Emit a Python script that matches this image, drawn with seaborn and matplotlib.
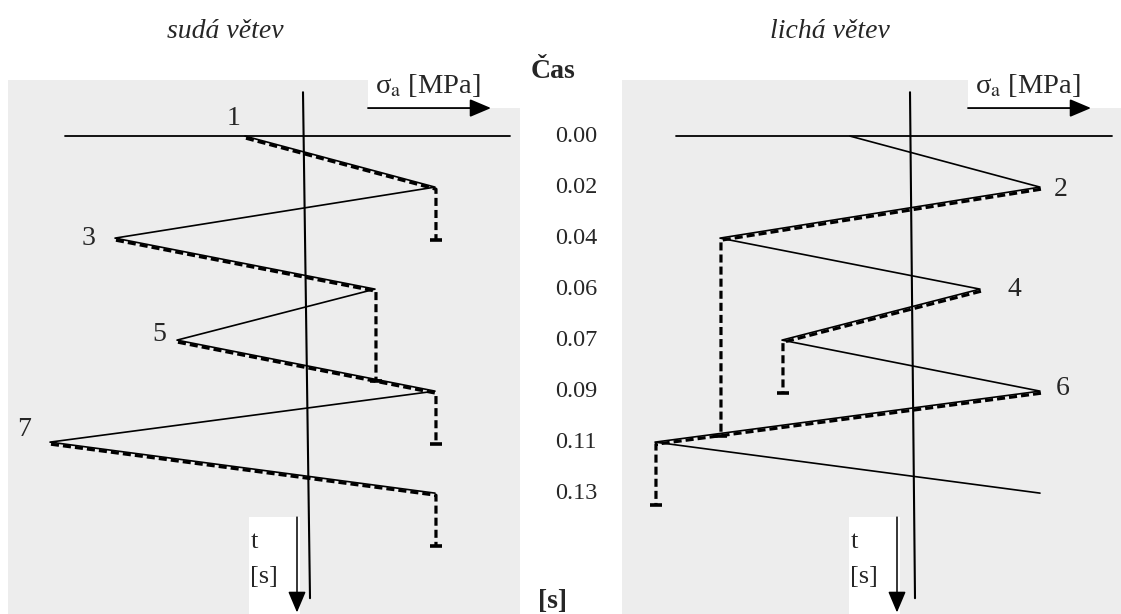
import numpy as np
import pandas as pd
import seaborn as sns
import matplotlib.pyplot as plt
from matplotlib import transforms
from matplotlib.patches import Rectangle

# Stress reversals of the loading history and their sample times
stress = [-60, 130, -190, 70, -128, 130, -255, 130]
times = ["0.00", "0.02", "0.04", "0.06", "0.07", "0.09", "0.11", "0.13"]
steps = list(range(len(stress)))

# Rainflow paths: (start reversal, peak reversal, level where the flow stops;
# None = the flow runs into a path coming from above)
flows_even = [(0, 1, 2.0), (2, 3, None), (4, 5, 6.0), (6, 7, 8.0)]
flows_odd = [(1, 2, None), (3, 4, 5.0), (5, 6, 7.2)]

# Numbered reversals shown on each branch
marks_even = ["1", "3", "5", "7"]
marks_odd = ["2", "4", "6"]

sns.set_style("white")
plt.rcParams["font.family"] = ["Liberation Serif", "DejaVu Serif"]
plt.rcParams["mathtext.fontset"] = "stix"
plt.rcParams["lines.scale_dashes"] = False

W, H = 1121, 614
fig = plt.figure(figsize=(W / 100, H / 100), dpi=100)
fig.patch.set_facecolor("white")

GRAY = "#ededed"
DASH = (0, (5.8, 2.9))


def stop_level(end):
    """Level where a flow dropping from reversal `end` meets a later path."""
    x = stress[end]
    for k in range(end + 1, len(stress) - 1):
        a, b = stress[k], stress[k + 1]
        if min(a, b) < x < max(a, b):
            return k + (x - a) / (b - a)
    return len(stress)


def panel(rect, xlim, axis_tilt, hline, sig_box, t_box, flows, marks, mark_side):
    ax = fig.add_axes(rect)
    ax.set_facecolor(GRAY)
    ax.set_xlim(*xlim)
    ax.set_ylim(9.37, -1.1)
    ax.set_xticks([])
    ax.set_yticks([])
    for s in ax.spines.values():
        s.set_visible(False)

    # time axis and the zero-time line
    ax.plot([axis_tilt[0], axis_tilt[1]], [-0.86, 9.06], color="black", lw=1.5)
    ax.plot(hline, [0, 0], color="black", lw=1.3)

    # loading history
    df = pd.DataFrame({"stress": stress, "step": steps})
    sns.lineplot(data=df, x="stress", y="step", sort=False, estimator=None,
                 color="black", lw=1.2, ax=ax)
    ax.set_xlabel("")
    ax.set_ylabel("")

    # rainflow paths, drawn just under the history line
    off = transforms.offset_copy(ax.transData, fig=fig, x=0.7, y=-1.5, units="points")
    for start, peak, stop in flows:
        if stop is None:
            stop = stop_level(peak)
        xs = [stress[start], stress[peak], stress[peak]]
        ys = [start, peak, stop]
        ax.plot(xs, ys, color="black", lw=2.3, ls=DASH, transform=off,
                solid_capstyle="butt", dash_capstyle="butt")
        ax.plot([stress[peak]], [stop], marker="_", ms=9, mew=2.6,
                color="black", transform=off)

    # reversal numbers
    for m in marks:
        i = int(m) - 1
        dx, dy = mark_side[m]
        ax.annotate(m, (stress[i], i), xytext=(dx, dy), textcoords="offset points",
                    ha="center", va="center", fontsize=20)

    # stress axis label with arrow
    x0, x1, y0 = sig_box
    ax.add_patch(Rectangle((x0, -1.1), xlim[1] - x0, y0 + 1.1, facecolor="white",
                           edgecolor="none", zorder=3))
    ax.annotate("", xy=(x1 + 3, y0), xytext=(x0, y0),
                arrowprops=dict(arrowstyle="-|>,head_length=1.3,head_width=0.55",
                                color="black", lw=1.3, shrinkA=0, shrinkB=0),
                zorder=4)
    ax.text((x0 + x1) / 2, y0 - 0.18, r"σ$_{\mathrm{a}}$ [MPa]", ha="center",
            va="bottom", fontsize=20.5, zorder=4, clip_on=False)

    # time label with arrow
    bx0, bx1 = t_box
    ax.add_patch(Rectangle((bx0, 7.47), bx1 - bx0, 1.95, facecolor="white",
                           edgecolor="none", zorder=3))
    ax.annotate("", xy=(bx1 - 3, 9.34), xytext=(bx1 - 3, 7.47),
                arrowprops=dict(arrowstyle="-|>,head_length=1.3,head_width=0.55",
                                color="black", lw=1.1, shrinkA=0, shrinkB=0),
                zorder=4)
    ax.text(bx0 + 2, 7.95, "t", ha="left", va="center", fontsize=19, zorder=4)
    ax.text(bx0 + 1, 8.65, "[s]", ha="left", va="center", fontsize=19, zorder=4)
    return ax


ax_l = panel([8 / W, 0, 512 / W, 534 / H], (-297, 215), (-2, 5), [-240, 205],
             (63, 183, -0.55), (-56, -5), flows_even, marks_even,
             {"1": (-8, 13), "3": (-19, 0), "5": (-13, 4), "7": (-19, 9)})
ax_r = panel([622 / W, 0, 499 / W, 534 / H], (-288, 211), (0, 5), [-234, 202],
             (58, 178, -0.55), (-61, -10), flows_odd, marks_odd,
             {"2": (15, -2), "4": (25, 0), "6": (16, 2)})

# branch titles
fig.text(225 / W, 1 - 32 / H, "sudá větev", ha="center", va="center",
         fontsize=20, style="italic")
fig.text(830 / W, 1 - 32 / H, "lichá větev", ha="center", va="center",
         fontsize=20, style="italic")

# time column between the panels
fig.text(553 / W, 1 - 72 / H, "Čas", ha="center", va="center", fontsize=20,
         weight="bold")
fig.text(553 / W, 1 - 601 / H, "[s]", ha="center", va="center", fontsize=20,
         weight="bold")
col = transforms.blended_transform_factory(fig.transFigure, ax_l.transData)
for i, t in enumerate(times):
    fig.text(576 / W, i, t, ha="center", va="center", fontsize=17.5, transform=col)

fig.savefig("out.png", dpi=100)
